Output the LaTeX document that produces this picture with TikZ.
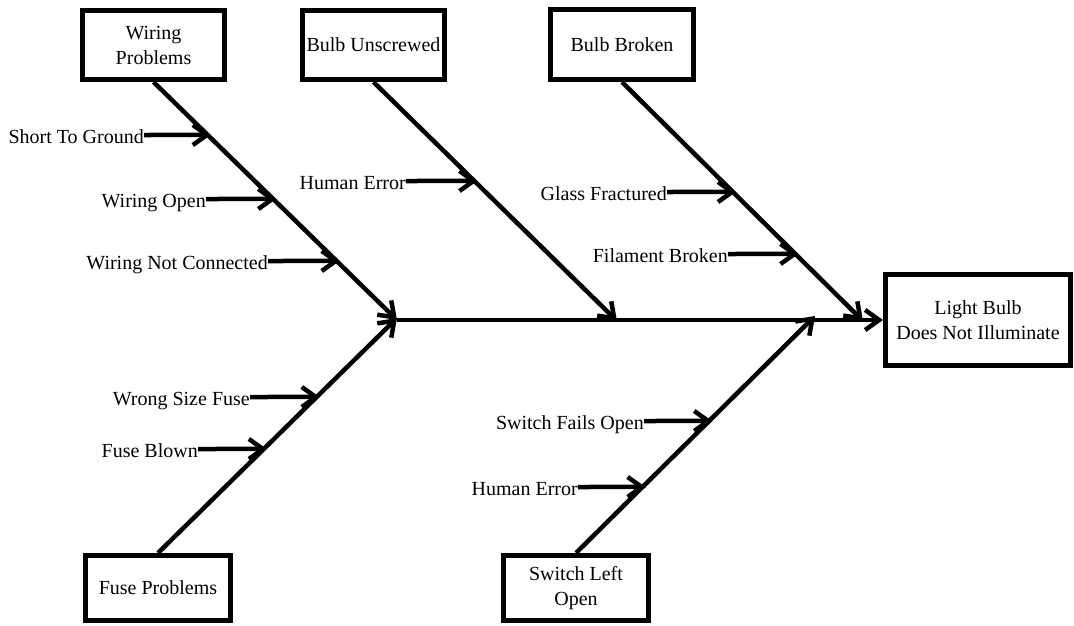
\documentclass[tikz,border=0pt]{standalone}
\usepackage{fontspec}
\setmainfont{Liberation Serif}
\usetikzlibrary{arrows.meta}
\newcommand\causebranch[6]{%
  \node[lbl] (#1) at (#3,#4) {#2};
  \coordinate (#1L) at (0,#4);
  \coordinate (#1R) at (1074,#4);
  \coordinate (#1T) at (intersection of #5--#6 and #1L--#1R);
  \draw[twig] (#1.east) -- (#1T);
}
\begin{document}
\begin{tikzpicture}[x=1pt,y=-1pt,
  box/.style={draw,line width=5pt,inner sep=0pt,align=center,font=\fontsize{20}{25}\selectfont},
  lbl/.style={inner sep=0pt,text height=18pt,text depth=2pt,font=\fontsize{20}{24}\selectfont,anchor=east},
  bone/.style={line width=4.5pt,-{Straight Barb[length=14pt,width=20pt]}},
  twig/.style={line width=4.5pt,-{Straight Barb[length=14pt,width=20pt]},shorten >=-3pt}]
\useasboundingbox (0,0) rectangle (1074,626);

% category boxes
\node[box,minimum width=142pt,minimum height=69pt] (wp) at (153.5,45) {Wiring\\Problems};
\node[box,minimum width=142pt,minimum height=69pt] (bu) at (373.5,45) {Bulb Unscrewed};
\node[box,minimum width=143pt,minimum height=70pt] (bb) at (622,44.5) {Bulb Broken};
\node[box,minimum width=185pt,minimum height=91pt] (lb) at (978,320) {Light Bulb\\Does Not Illuminate};
\node[box,minimum width=145pt,minimum height=65pt] (fp) at (158,588) {Fuse Problems};
\node[box,minimum width=145pt,minimum height=65pt] (sl) at (576,588) {Switch Left\\Open};

% junctions on the spine
\coordinate (j1) at (397,320);
\coordinate (j2) at (397,318);
\coordinate (j3) at (617,321);
\coordinate (j4) at (815,316);
\coordinate (j5) at (863,321);

\coordinate (w0) at (wp.south);
\coordinate (u0) at (bu.south);
\coordinate (b0) at (bb.south);
\coordinate (f0) at (fp.north);
\coordinate (s0) at (sl.north);

% main bones
\draw[bone] (w0) -- (j1);
\draw[bone] (u0) -- (j3);
\draw[bone] (b0) -- (j5);
\draw[bone] (f0) -- (j2);
\draw[bone] (s0) -- (j4);
\draw[bone] (j1) -- (lb.west);

% causes
\causebranch{st}{Short To Ground}{144}{135}{w0}{j1}
\causebranch{wo}{Wiring Open}{206}{199}{w0}{j1}
\causebranch{wn}{Wiring Not Connected}{268}{261}{w0}{j1}
\causebranch{heu}{Human Error}{406}{181}{u0}{j3}
\causebranch{gf}{Glass Fractured}{667}{192}{b0}{j5}
\causebranch{fb}{Filament Broken}{728}{254}{b0}{j5}
\causebranch{ws}{Wrong Size Fuse}{250}{397}{f0}{j2}
\causebranch{fbl}{Fuse Blown}{198}{449}{f0}{j2}
\causebranch{sf}{Switch Fails Open}{644}{421}{s0}{j4}
\causebranch{hes}{Human Error}{578}{487}{s0}{j4}
\end{tikzpicture}
\end{document}
